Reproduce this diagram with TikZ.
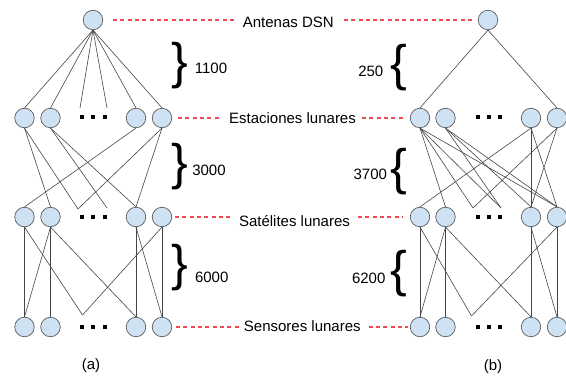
\documentclass[tikz,border=0pt]{standalone}
\usepackage{fontspec}
\setmainfont{Liberation Sans}
\definecolor{nodefill}{RGB}{207,226,243}
\definecolor{nodeborder}{RGB}{95,95,95}
\definecolor{edgecol}{RGB}{70,70,70}
\definecolor{dashred}{RGB}{240,75,80}
\begin{document}
\begin{tikzpicture}[x=1pt,y=-1pt,
  nd/.style={circle,draw=nodeborder,fill=nodefill,line width=0.7pt,minimum size=19.5pt,inner sep=0pt},
  ln/.style={draw=edgecol,line width=0.6pt},
  rdash/.style={draw=dashred,line width=1.1pt,dash pattern=on 4pt off 3.3pt},
  lbl/.style={font=\fontsize{15}{18}\selectfont,inner sep=0pt,anchor=base},
  br/.style={font=\fontsize{50}{50}\selectfont,inner sep=0pt}]
\useasboundingbox (0,0) rectangle (566,377);

% ---------- left graph (a) ----------
\node[nd] (TL) at (93,20) {};
\foreach \n/\x in {1/24.5,2/50.5,3/136,4/162}{
  \node[nd] (a\n) at (\x,118) {};
  \node[nd] (b\n) at (\x,217) {};
  \node[nd] (c\n) at (\x,327) {};
}
\coordinate (pL1) at (80,108);
\coordinate (pL2) at (107,108);
\coordinate (qL1) at (78,209);
\coordinate (qL2) at (107,208);
\coordinate (vL) at (82.5,315);

\draw[ln] (TL.south) -- (a1.north);
\draw[ln] (TL.south) -- (a2.north);
\draw[ln] (TL.south) -- (pL1);
\draw[ln] (TL.south) -- (pL2);
\draw[ln] (TL.south) -- (a3.north);
\draw[ln] (TL.south) -- (a4.north);

\draw[ln] (a1.south) -- (b2.north);
\draw[ln] (a1.south) -- (qL1);
\draw[ln] (a2.south) -- (qL2);
\draw[ln] (a2.south) -- (b3.north);
\draw[ln] (a3.south) -- (b1.north);
\draw[ln] (a4.south) -- (qL1);
\draw[ln] (a4.south) -- (b3.north);

\draw[ln] (b1.south) -- (c1.north);
\draw[ln] (b1.south) -- (vL);
\draw[ln] (b2.south) -- (c1.north);
\draw[ln] (b2.south) -- (c2.north);
\draw[ln] (b2.south) -- (c3.north);
\draw[ln] (b3.south) -- (c3.north);
\draw[ln] (b3.south) -- (c4.north);
\draw[ln] (b4.south) -- (c4.north);
\draw[ln] (b4.south) -- (vL);

% ---------- right graph (b) ----------
\node[nd] (TR) at (488,20) {};
\foreach \n/\x in {1/420,2/445.5,3/531,4/557}{
  \node[nd] (e\n) at (\x,118) {};
  \node[nd] (f\n) at (\x,217) {};
  \node[nd] (g\n) at (\x,327) {};
}
\coordinate (qR1) at (473,208);
\coordinate (qR2) at (501,208);
\coordinate (vR) at (471.5,316);

\draw[ln] (TR.south) -- (e1.north);
\draw[ln] (TR.south) -- (e4.north);

\draw[ln] (e1.south) -- (f2.north);
\draw[ln] (e1.south) -- (qR1);
\draw[ln] (e1.south) -- (qR2);
\draw[ln] (e1.south) -- (f4.north);
\draw[ln] (e2.south) -- (qR2);
\draw[ln] (e2.south) -- (f3.north);
\draw[ln] (e2.south) -- (f4.north);
\draw[ln] (e3.south) -- (f1.north);
\draw[ln] (e3.south) -- (f3.north);
\draw[ln] (e3.south) -- (f4.north);
\draw[ln] (e4.south) -- (qR1);
\draw[ln] (e4.south) -- (f3.north);

\draw[ln] (f1.south) -- (g1.north);
\draw[ln] (f1.south) -- (vR);
\draw[ln] (f2.south) -- (g1.north);
\draw[ln] (f2.south) -- (g2.north);
\draw[ln] (f2.south) -- (g3.north);
\draw[ln] (f3.south) -- (g3.north);
\draw[ln] (f3.south) -- (g4.north);
\draw[ln] (f4.south) -- (g4.north);
\draw[ln] (f4.south) -- (vR);

% ---------- ellipsis dots ----------
\foreach \y in {117.5,217,327.5}{
  \foreach \x in {81.5,93,104.5}{\fill (\x-2,\y-2) rectangle ++(4,4);}
  \foreach \x in {478,488.5,499.5}{\fill (\x-2,\y-2) rectangle ++(4,4);}
}

% ---------- level labels ----------
\node[lbl] (lDSN) at (288.3,27.4) {Antenas DSN};
\node[lbl] (lEst) at (292.5,124) {Estaciones lunares};
\node[lbl] (lSat) at (294.5,226.5) {Satélites lunares};
\node[lbl] (lSen) at (302.3,331.4) {Sensores lunares};

\draw[rdash] ([xshift=10pt]TL.east) -- ([xshift=-9pt]lDSN.west |- TL.east);
\draw[rdash] ([xshift=10pt]lDSN.east |- TR.west) -- ([xshift=-6pt]TR.west);
\draw[rdash] ([xshift=6pt]a4.east) -- ([xshift=-8pt]lEst.west |- a4.east);
\draw[rdash] ([xshift=6pt]lEst.east |- e1.west) -- ([xshift=-7pt]e1.west);
\draw[rdash] ([xshift=3pt]b4.east) -- ([xshift=-6pt]lSat.west |- b4.east);
\draw[rdash] ([xshift=8pt]lSat.east |- f1.west) -- ([xshift=-7pt]f1.west);
\draw[rdash] ([xshift=4pt]c4.east) -- ([xshift=-5pt]lSen.west |- c4.east);
\draw[rdash] ([xshift=8pt]lSen.east |- g1.west) -- ([xshift=-2pt]g1.west);

% ---------- braces and counts ----------
\node[br] (bA1) at (179.5,65.5) {\}};
\node[br] (bA2) at (179.5,166.7) {\}};
\node[br] (bA3) at (180,267.5) {\}};
\node[br] (bB1) at (399,67.5) {\{};
\node[br] (bB2) at (399,171.7) {\{};
\node[br] (bB3) at (399,273.3) {\{};

\node[lbl] (nA1) at (211,73.3) {1100};
\node[lbl] (nA2) at (209,176) {3000};
\node[lbl] (nA3) at (211.7,282.7) {6000};
\node[lbl] (nB1) at (370.8,76.7) {250};
\node[lbl] (nB2) at (370.3,180) {3700};
\node[lbl] (nB3) at (368.7,283.3) {6200};

\node[lbl] (capA) at (91,370) {(a)};
\node[lbl] (capB) at (493,370.5) {(b)};
\end{tikzpicture}
\end{document}
